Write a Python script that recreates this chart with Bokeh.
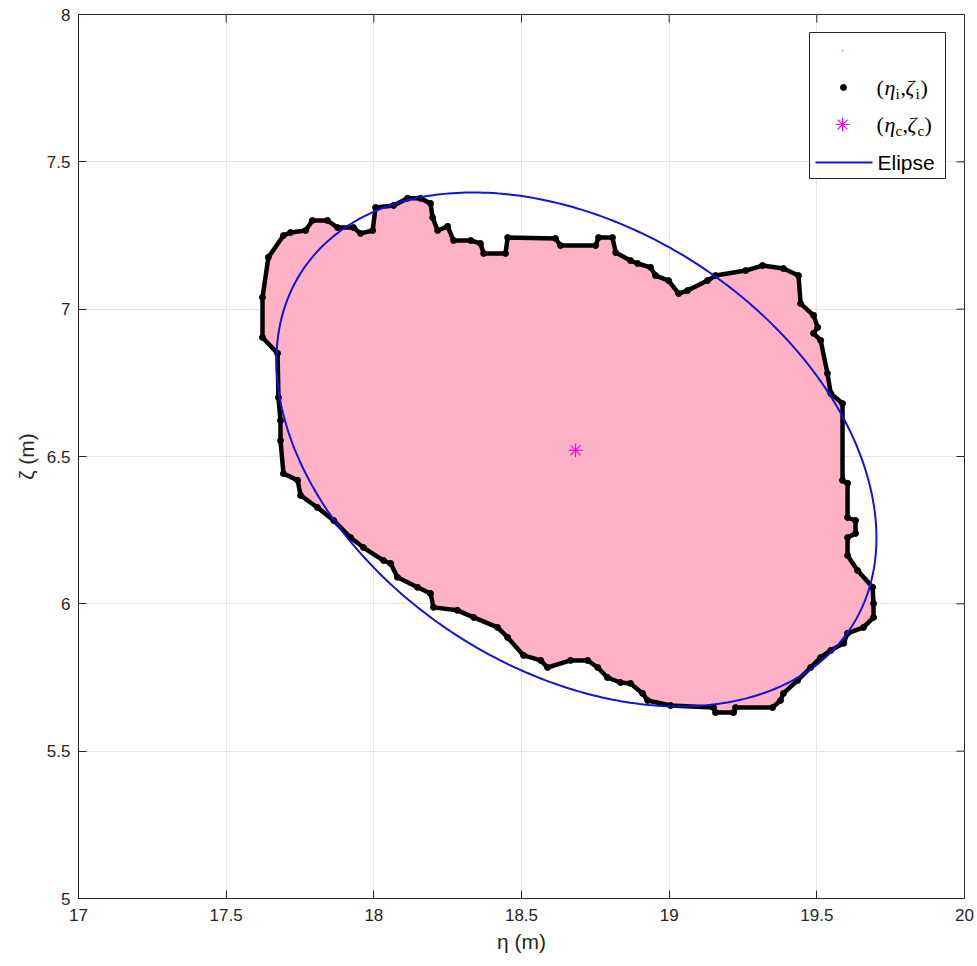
import numpy as np
from bokeh.plotting import figure
from bokeh.models import Range1d, FixedTicker, Label
from bokeh.embed import file_html
from bokeh.resources import INLINE

# ---------------- data ----------------
eta_boundary = [17.694, 17.718, 17.769, 17.792, 17.843, 17.877, 17.931, 17.955, 17.996, 18.006,
                18.067, 18.114, 18.158, 18.192, 18.199, 18.216, 18.250, 18.270, 18.328, 18.361,
                18.372, 18.446, 18.453, 18.615, 18.632, 18.751, 18.761, 18.808, 18.819, 18.869,
                18.893, 18.937, 18.954, 18.998, 19.032, 19.062, 19.130, 19.157, 19.259, 19.316,
                19.387, 19.438, 19.445, 19.489, 19.503, 19.489, 19.513, 19.536, 19.547, 19.587,
                19.587, 19.604, 19.604, 19.631, 19.631, 19.604, 19.604, 19.638, 19.689, 19.692,
                19.692, 19.658, 19.604, 19.591, 19.547, 19.513, 19.479, 19.435, 19.387, 19.377,
                19.350, 19.225, 19.218, 19.157, 19.150, 19.005, 18.927, 18.910, 18.869, 18.835,
                18.791, 18.758, 18.724, 18.666, 18.588, 18.565, 18.507, 18.453, 18.419, 18.338,
                18.283, 18.202, 18.192, 18.148, 18.080, 18.057, 18.033, 17.965, 17.921, 17.864,
                17.809, 17.752, 17.742, 17.694, 17.684, 17.684, 17.677, 17.674, 17.623, 17.623, 17.643]
zeta_boundary = [7.250, 7.260, 7.267, 7.301, 7.301, 7.277, 7.277, 7.257, 7.267, 7.345,
                 7.352, 7.376, 7.376, 7.359, 7.311, 7.267, 7.281, 7.233, 7.233, 7.223,
                 7.189, 7.189, 7.243, 7.240, 7.216, 7.216, 7.243, 7.243, 7.192, 7.165,
                 7.155, 7.142, 7.114, 7.097, 7.053, 7.063, 7.097, 7.114, 7.131, 7.148,
                 7.138, 7.114, 7.019, 6.979, 6.938, 6.918, 6.894, 6.782, 6.714, 6.680,
                 6.419, 6.409, 6.293, 6.283, 6.239, 6.225, 6.164, 6.113, 6.056, 6.001,
                 5.954, 5.920, 5.900, 5.866, 5.842, 5.818, 5.784, 5.740, 5.696, 5.672,
                 5.648, 5.648, 5.631, 5.631, 5.648, 5.655, 5.672, 5.696, 5.730, 5.733,
                 5.750, 5.784, 5.808, 5.808, 5.784, 5.808, 5.825, 5.886, 5.920, 5.954,
                 5.978, 5.988, 6.035, 6.056, 6.090, 6.137, 6.147, 6.191, 6.225, 6.283,
                 6.327, 6.368, 6.419, 6.442, 6.554, 6.622, 6.700, 6.850, 6.904, 7.040, 7.176]

eta_c = [18.683]
zeta_c = [6.521]

ellipse_center = [18.686, 6.524]
ellipse_semi_axes = [1.109, 0.750]
ellipse_angle_deg = -33.0

x_ticks = [17, 17.5, 18, 18.5, 19, 19.5, 20]
x_tick_labels = ["17", "17.5", "18", "18.5", "19", "19.5", "20"]
y_ticks = [5, 5.5, 6, 6.5, 7, 7.5, 8]
y_tick_labels = ["5", "5.5", "6", "6.5", "7", "7.5", "8"]

x_label = "η (m)"
y_label = "ζ (m)"
legend_ellipse_label = "Elipse"

# ---------------- styles / layout ----------------
AX = "#262626"
PINK = "#ffb2c5"
BLUE = "#1212d8"
MAGENTA = "#ff00ff"

X0, X1 = 17, 20
Y0, Y1 = 5, 8
FL, FT, FW, FH = 78, 14, 886, 884   # frame left, top, width, height (px)
TICK = 8


def px2x(px):
    return X0 + (px - FL) / FW * (X1 - X0)


def py2y(py):
    return Y1 - (py - FT) / FH * (Y1 - Y0)


p = figure(frame_width=FW, frame_height=FH,
           x_range=Range1d(X0, X1), y_range=Range1d(Y0, Y1),
           output_backend="svg", toolbar_location=None,
           min_border_left=FL, min_border_right=977 - FL - FW,
           min_border_top=FT, min_border_bottom=966 - FT - FH,
           background_fill_color="white", border_fill_color="white",
           outline_line_color=AX, outline_line_width=1)

xa = p.xaxis[0]
ya = p.yaxis[0]
xa.ticker = FixedTicker(ticks=x_ticks)
ya.ticker = FixedTicker(ticks=y_ticks)
xa.major_label_overrides = {float(t): l for t, l in zip(x_ticks, x_tick_labels)}
ya.major_label_overrides = {float(t): l for t, l in zip(y_ticks, y_tick_labels)}
for ax in (xa, ya):
    ax.major_tick_in = TICK
    ax.major_tick_out = 0
    ax.minor_tick_line_color = None
    ax.axis_line_color = AX
    ax.major_tick_line_color = AX
    ax.major_label_text_color = AX
    ax.major_label_text_font = "Liberation Sans"
    ax.major_label_text_font_size = "17px"
    ax.axis_label_text_font = "Liberation Sans"
    ax.axis_label_text_font_style = "normal"
    ax.axis_label_text_font_size = "21px"
    ax.axis_label_text_color = AX
xa.axis_label = x_label
ya.axis_label = y_label
xa.major_label_standoff = 10
ya.major_label_standoff = 8
xa.axis_label_standoff = 6
ya.axis_label_standoff = 6

p.xgrid.ticker = FixedTicker(ticks=x_ticks)
p.ygrid.ticker = FixedTicker(ticks=y_ticks)
p.grid.grid_line_color = "#e4e4e4"
p.grid.grid_line_width = 1

# mirrored inward ticks on top and right edges
dy_tick = TICK / FH * (Y1 - Y0)
dx_tick = TICK / FW * (X1 - X0)
p.segment(x0=x_ticks, y0=[Y1] * len(x_ticks), x1=x_ticks, y1=[Y1 - dy_tick] * len(x_ticks),
          line_color=AX, line_width=1)
p.segment(x0=[X1] * len(y_ticks), y0=y_ticks, x1=[X1 - dx_tick] * len(y_ticks), y1=y_ticks,
          line_color=AX, line_width=1)

# ---------------- glyphs ----------------
p.patch(eta_boundary, zeta_boundary, fill_color=PINK, line_color=None)
p.line(eta_boundary + eta_boundary[:1], zeta_boundary + zeta_boundary[:1],
       line_color="black", line_width=4.5, line_join="round")
p.scatter(eta_boundary, zeta_boundary, marker="circle", size=6,
          fill_color="black", line_color="black")

t = np.linspace(0, 2 * np.pi, 400)
th = np.deg2rad(ellipse_angle_deg)
a, b = ellipse_semi_axes
ex = ellipse_center[0] + a * np.cos(t) * np.cos(th) - b * np.sin(t) * np.sin(th)
ey = ellipse_center[1] + a * np.cos(t) * np.sin(th) + b * np.sin(t) * np.cos(th)
p.line(ex, ey, line_color=BLUE, line_width=2)

p.scatter(eta_c, zeta_c, marker="asterisk", size=14, line_color=MAGENTA, line_width=1.2)

# ---------------- legend (manual) ----------------
p.quad(left=[px2x(809)], right=[px2x(945)], top=[py2y(32)], bottom=[py2y(178)],
       fill_color="white", line_color=AX, line_width=1)
rows = [50, 87, 124, 162]
p.scatter([px2x(842)], [py2y(rows[0])], marker="circle", size=3,
          fill_color="#e3cbd4", line_color=None)
p.scatter([px2x(843)], [py2y(rows[1])], marker="circle", size=6,
          fill_color="black", line_color="black")
p.scatter([px2x(842)], [py2y(rows[2])], marker="asterisk", size=14,
          line_color=MAGENTA, line_width=1.2)
p.line([px2x(815), px2x(872)], [py2y(rows[3]), py2y(rows[3])], line_color=BLUE, line_width=2)


def piece(px, py, text, size, style="normal", font="Liberation Serif"):
    p.add_layout(Label(x=px2x(px), y=py2y(py), text=text, text_font=font,
                       text_font_size=f"{size}px", text_font_style=style,
                       text_color="black", text_align="left", text_baseline="middle"))


for row, sub in ((rows[1], "i"), (rows[2], "c")):
    sw = 5 if sub == "i" else 7
    x = 876
    piece(x, row, "(", 22)
    x += 8
    piece(x, row, "η", 22, "italic")
    x += 11
    piece(x, row + 6, sub, 15)
    x += sw
    piece(x, row, ",", 22)
    x += 5
    piece(x, row, "ζ", 22, "italic")
    x += 10
    piece(x, row + 6, sub, 15)
    x += sw
    piece(x, row, ")", 22)

piece(877, rows[3], legend_ellipse_label, 21, font="Liberation Sans")

open("out.html", "w").write(file_html(p, INLINE))
